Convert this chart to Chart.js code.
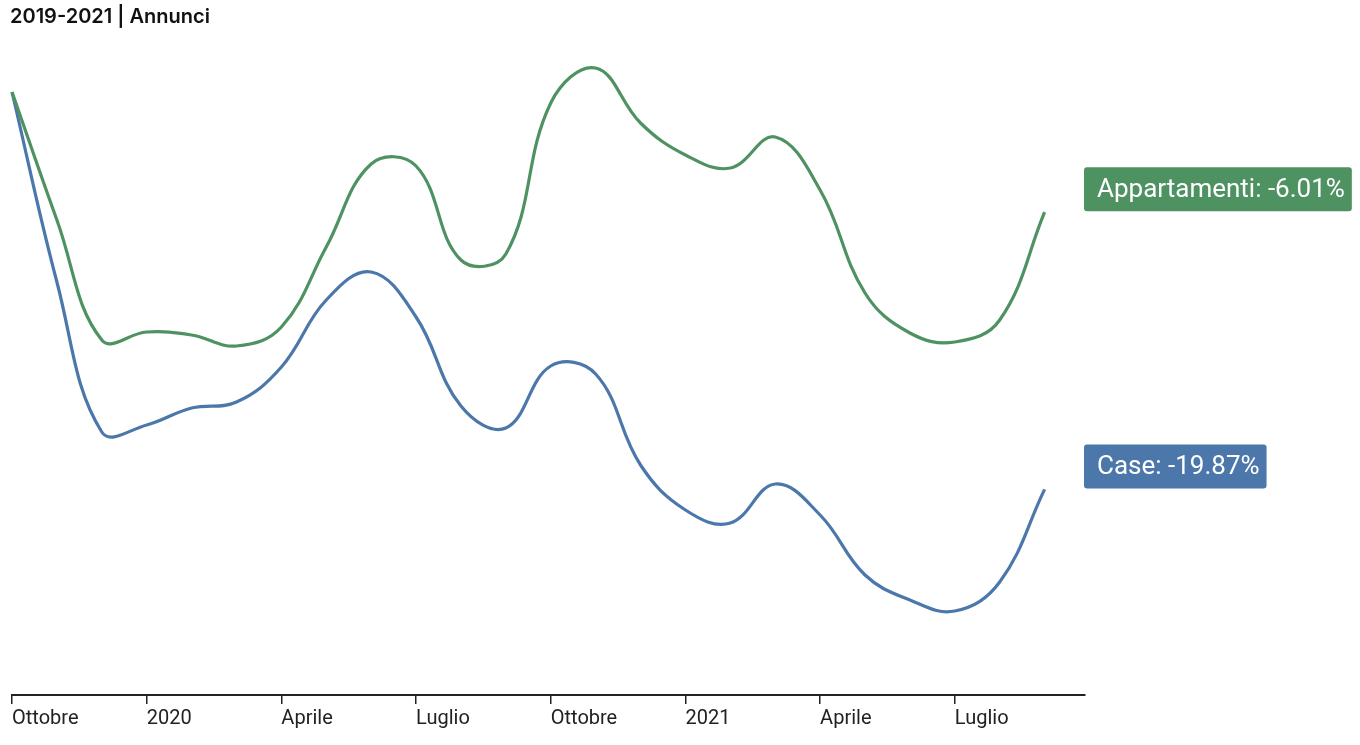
<!DOCTYPE html>
<html>
<head>
<meta charset="utf-8">
<script src="https://cdn.jsdelivr.net/npm/chart.js@4/dist/chart.umd.min.js"></script>
<style>
  html, body { margin: 0; padding: 0; background: #fff; }
  #wrap { position: relative; width: 1360px; height: 745px; }
  #title {
    position: absolute; left: 10px; top: 4px;
    font: 600 20px "Inter", "Lato", sans-serif; color: #111;
  }
</style>
</head>
<body>
<div id="wrap">
  <div id="title">2019-2021 | Annunci</div>
  <canvas id="myChart" width="1360" height="745"></canvas>
</div>
<script>
"use strict"

// months from Ottobre 2019 to Settembre 2021 (index values, start = 100)
const months = ["2019-10", "2019-11", "2019-12", "2020-01", "2020-02", "2020-03",
  "2020-04", "2020-05", "2020-06", "2020-07", "2020-08", "2020-09",
  "2020-10", "2020-11", "2020-12", "2021-01", "2021-02", "2021-03",
  "2021-04", "2021-05", "2021-06", "2021-07", "2021-08", "2021-09"];

const appartamenti = [100, 93.6, 87.6, 88.0, 87.85, 87.3, 88.25, 92.25, 96.4, 96.3,
  91.6, 91.9, 99.45, 101.2, 98.45, 96.85, 96.2, 97.75, 95.1, 89.95, 87.95, 87.5, 88.6, 93.99];

const case_ = [100, 90.5, 83.0, 83.35, 84.2, 84.5, 86.25, 89.6, 91.0, 88.75,
  84.3, 83.2, 86.3, 85.9, 81.35, 79.1, 78.45, 80.4, 78.85, 75.85, 74.6, 74.05, 75.5, 80.13];

const tickLabels = { 0: "Ottobre", 3: "2020", 6: "Aprile", 9: "Luglio",
  12: "Ottobre", 15: "2021", 18: "Aprile", 21: "Luglio" };

const seriesLabels = ["Appartamenti: -6.01%", "Case: -19.87%"];

const greenColor = '#4f9262';
const blueColor = '#4b77aa';

function toPoints(values) {
  return values.map((v, i) => ({ x: i, y: v }));
}

const endLabels = {
  id: 'endLabels',
  afterDatasetsDraw(chart) {
    const ctx = chart.ctx;
    const area = chart.chartArea;
    ctx.save();
    ctx.font = '26px Roboto';
    ctx.textBaseline = 'middle';
    chart.data.datasets.forEach((ds, i) => {
      const last = ds.data[ds.data.length - 1].y;
      const yEnd = chart.scales.y.getPixelForValue(last);
      const text = seriesLabels[i];
      const w = ctx.measureText(text).width + 20;
      const h = 44;
      const x = area.right - 1;
      const y = yEnd - h - 1;
      ctx.fillStyle = ds.borderColor;
      ctx.beginPath();
      ctx.roundRect(x, y, w, h, 3);
      ctx.fill();
      ctx.fillStyle = '#fff';
      ctx.fillText(text, x + 13, y + h / 2 + 1);
    });
    ctx.restore();
  }
};

const ctx = document.getElementById('myChart').getContext('2d');
const myChart = new Chart(ctx, {
  type: 'line',
  data: {
    datasets: [{
      label: 'Appartamenti',
      data: toPoints(appartamenti),
      borderColor: greenColor,
      borderWidth: 3.2,
      pointRadius: 0,
      tension: 0.4,
      clip: false
    }, {
      label: 'Case',
      data: toPoints(case_),
      borderColor: blueColor,
      borderWidth: 3.2,
      pointRadius: 0,
      tension: 0.4,
      clip: false
    }]
  },
  options: {
    responsive: false,
    animation: false,
    layout: { padding: { left: 12, right: 275, top: 40, bottom: 0 } },
    plugins: { legend: { display: false }, tooltip: { enabled: false } },
    scales: {
      x: {
        type: 'linear',
        min: 0,
        max: 23.9,
        afterFit(scale) { scale.height = 50; },
        afterBuildTicks(scale) {
          scale.ticks = Object.keys(tickLabels).map(k => ({ value: Number(k) }));
        },
        grid: { drawOnChartArea: false, drawTicks: true, tickLength: 9, color: '#222', lineWidth: 1.5 },
        border: { display: true, color: '#222', width: 2 },
        ticks: {
          autoSkip: false,
          maxRotation: 0,
          align: 'start',
          padding: 3,
          color: '#222',
          font: { family: 'Roboto', size: 20 },
          callback: v => tickLabels[v] || ''
        }
      },
      y: {
        display: false,
        min: 69.85,
        max: 102.6
      }
    }
  },
  plugins: [endLabels]
});
</script>
</body>
</html>
